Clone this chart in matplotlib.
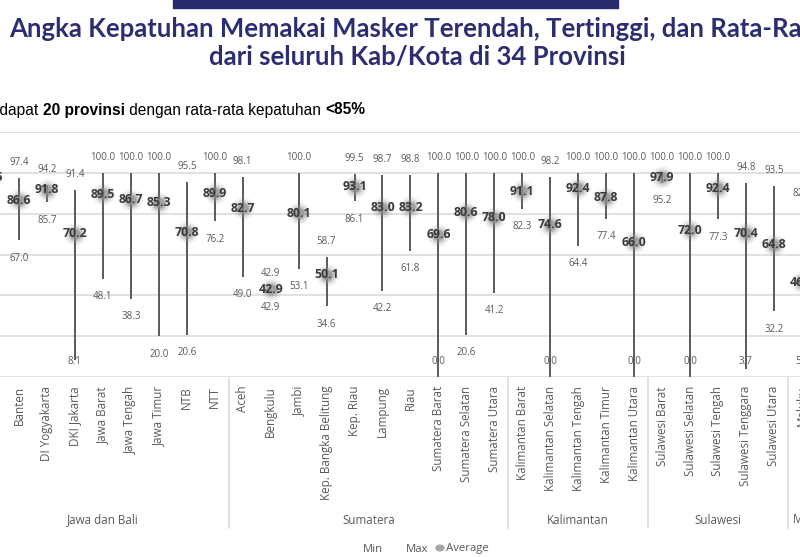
import numpy as np
import matplotlib.pyplot as plt
from matplotlib import font_manager
from matplotlib.transforms import blended_transform_factory
from matplotlib.patches import Rectangle

# %% data (Bali and Maluku are only partly visible)
groups = ["Jawa dan Bali", "Sumatera", "Kalimantan", "Sulawesi", "Maluku dan Papua"]
group_members = [
    ["Bali", "Banten", "DI Yogyakarta", "DKI Jakarta", "Jawa Barat", "Jawa Tengah",
     "Jawa Timur", "NTB", "NTT"],
    ["Aceh", "Bengkulu", "Jambi", "Kep. Bangka Belitung", "Kep. Riau", "Lampung", "Riau",
     "Sumatera Barat", "Sumatera Selatan", "Sumatera Utara"],
    ["Kalimantan Barat", "Kalimantan Selatan", "Kalimantan Tengah", "Kalimantan Timur",
     "Kalimantan Utara"],
    ["Sulawesi Barat", "Sulawesi Selatan", "Sulawesi Tengah", "Sulawesi Tenggara",
     "Sulawesi Utara"],
    ["Maluku"],
]
provinces = [p for g in group_members for p in g]

max_vals = [98.9, 97.4, 94.2, 91.4, 100.0, 100.0, 100.0, 95.5, 100.0,
            98.1, 42.9, 100.0, 58.7, 99.5, 98.7, 98.8, 100.0, 100.0, 100.0,
            100.0, 98.2, 100.0, 100.0, 100.0,
            100.0, 100.0, 100.0, 94.8, 93.5,
            82.4]
avg_vals = [97.5, 86.6, 91.8, 70.2, 89.5, 86.7, 85.3, 70.8, 89.9,
            82.7, 42.9, 80.1, 50.1, 93.1, 83.0, 83.2, 69.6, 80.6, 78.0,
            91.1, 74.6, 92.4, 87.8, 66.0,
            97.9, 72.0, 92.4, 70.4, 64.8,
            46.3]
min_vals = [95.3, 67.0, 85.7, 8.1, 48.1, 38.3, 20.0, 20.6, 76.2,
            49.0, 42.9, 53.1, 34.6, 86.1, 42.2, 61.8, 0.0, 20.6, 41.2,
            82.3, 0.0, 64.4, 77.4, 0.0,
            95.2, 0.0, 77.3, 3.7, 32.2,
            5.3]

navy = "#2b2e70"
grey_txt = "#595959"
grid_c = "#d9d9d9"
FONT = "Open Sans"

W, H = 800, 557
fig = plt.figure(figsize=(W / 100, H / 100), dpi=100)

# plot area: value 0 at y=377px, 120 at y=132px ; Banten at x=19px, step 27.96px
px_step = 27.96
ax = fig.add_axes([0, (H - 377) / H, 1, (377 - 132) / H])
ax.set_xlim(1 - 19 / px_step, 1 + (W - 19) / px_step)
ax.set_ylim(0, 120)
for s in ax.spines.values():
    s.set_visible(False)
ax.set_xticks([])
ax.set_yticks([])
for g in range(0, 121, 20):
    ax.axhline(g, color=grid_c, lw=1.1, zorder=0)

x = np.arange(len(provinces))
ax.vlines(x, min_vals, max_vals, color="#5a5a5a", lw=1.4, zorder=2, clip_on=False)

# soft shadowed average marker
for s, a in [(260, 0.10), (170, 0.18), (100, 0.35), (55, 0.6)]:
    ax.scatter(x, avg_vals, s=s, color="#8a8a8a", alpha=a, lw=0, zorder=3, clip_on=False)

px = 120 / (377 - 132)  # data units per pixel
for xi, lo, av, hi in zip(x, min_vals, avg_vals, max_vals):
    ax.text(xi, hi + 15.5 * px, f"{hi:.1f}", ha="center", va="center", fontsize=7,
            color=grey_txt, family=FONT, clip_on=False, zorder=4)
    ax.text(xi, max(lo - 18 * px, 15 * px), f"{lo:.1f}", ha="center", va="center",
            fontsize=7, color=grey_txt, family=FONT, clip_on=False, zorder=4)
    ax.text(xi, av, f"{av:.1f}", ha="center", va="center", fontsize=8.8,
            fontweight="bold", color="#3a3a3a", family=FONT, clip_on=False, zorder=5)

# category axis
tr = blended_transform_factory(ax.transData, fig.transFigure)
for xi, name in zip(x, provinces):
    fig.text(xi, (H - 386) / H, name, transform=tr, rotation=90,
             ha="center", va="top", fontsize=8.4, color=grey_txt, family=FONT)

start = 0
for gname, members in zip(groups, group_members):
    n = len(members)
    end = start + n - 1
    if gname == "Maluku dan Papua":
        end = start + 3  # four provinces in this group, only the first is in frame
    ax.plot([start - 0.5, start - 0.5], [(H - 378) / H, (H - 528) / H], transform=tr,
            color=grid_c, lw=1.1, clip_on=False)
    fig.text((start + end) / 2, (H - 520) / H, gname, transform=tr, ha="center",
             va="center", fontsize=8.4, color=grey_txt, family=FONT)
    start += n

# legend
fig.text(373 / W, (H - 549) / H, "Min", ha="center", va="center", fontsize=8.2,
         color=grey_txt, family=FONT)
fig.text(417 / W, (H - 549) / H, "Max", ha="center", va="center", fontsize=8.2,
         color=grey_txt, family=FONT)
fig.text(446 / W, (H - 549) / H, "Average", ha="left", va="center", fontsize=8.2,
         color=grey_txt, family=FONT)
fig.patches.append(plt.Circle((440 / W, (H - 548) / H), 4 / W, transform=fig.transFigure,
                              color="#a6a6a6", figure=fig))

# header
fig.patches.append(Rectangle((173 / W, (H - 8) / H), 445 / W, 8 / H,
                             transform=fig.transFigure, color="#272b6d", figure=fig))
fig.text(417 / W, (H - 29) / H, "Angka Kepatuhan Memakai Masker Terendah, Tertinggi, dan Rata-Rata",
         ha="center", va="center", fontsize=18.5, color=navy, family="Lato",
         fontweight="bold")
fig.text(417 / W, (H - 57) / H, "dari seluruh Kab/Kota di 34 Provinsi",
         ha="center", va="center", fontsize=18.5, color=navy, family="Lato",
         fontweight="bold")

# subtitle with bold parts, first letters are outside the frame
names = {f.name for f in font_manager.fontManager.ttflist}
sub_font = "Liberation Sans Narrow" if "Liberation Sans Narrow" in names else "Liberation Sans"
parts = [("Terdapat ", "normal"), ("20 provinsi", "bold"),
         (" dengan rata-rata kepatuhan ", "normal"), ("<85%", "bold")]
renderer = fig.canvas.get_renderer()
probe = fig.text(0, 0, "Ter", fontsize=11.2, family=sub_font)
xpos = -probe.get_window_extent(renderer).width
probe.remove()
for txt, wt in parts:
    t = fig.text(xpos / W, (H - 110) / H, txt, ha="left", va="center", fontsize=11.2,
                 family=sub_font, fontweight=wt, color="black")
    xpos += t.get_window_extent(renderer).width

fig.savefig("out.png", dpi=100, facecolor="white")
